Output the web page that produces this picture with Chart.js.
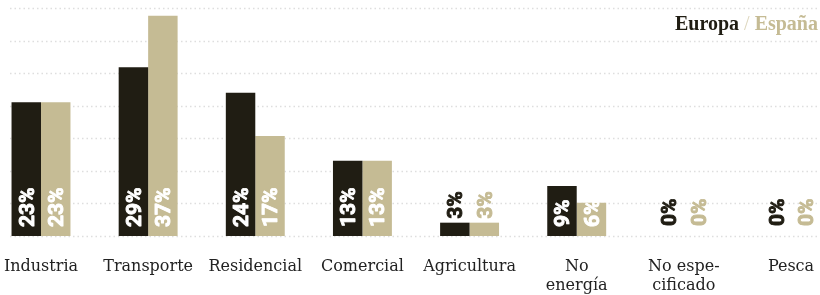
<!DOCTYPE html>
<html>
<head>
<meta charset="utf-8">
<script src="https://cdn.jsdelivr.net/npm/chart.js@4"></script>
<style>
  body { margin: 0; background: #fff; }
  #wrap { position: relative; width: 820px; height: 295px; }
  #legend {
    position: absolute; right: 2px; top: 12px;
    font: bold 20px "Liberation Serif", serif;
  }
  #legend .eu { color: #201d13; }
  #legend .sep { color: #ddd6bd; font-weight: normal; }
  #legend .es { color: #c5bb94; }
</style>
</head>
<body>
<div id="wrap">
  <canvas id="chart"></canvas>
  <div id="legend"><span class="eu">Europa</span><span class="sep"> / </span><span class="es">España</span></div>
</div>
<script>
const categories = ["Industria", "Transporte", "Residencial", "Comercial", "Agricultura", ["No", "energía"], ["No espe-", "cificado"], "Pesca"];
const europa = [22.6, 28.5, 24.2, 12.7, 2.25, 8.45, 0, 0];
const espana = [22.6, 37.2, 16.9, 12.7, 2.25, 5.6, 0, 0];
const europaLabels = ["23%", "29%", "24%", "13%", "3%", "9%", "0%", "0%"];
const espanaLabels = ["23%", "37%", "17%", "13%", "3%", "6%", "0%", "0%"];

const dark = "#201d13";
const tan = "#c5bb94";

// dotted horizontal lines across the full width
const gridPlugin = {
    id: "dotGrid",
    beforeDatasetsDraw(chart) {
        const ctx = chart.ctx;
        const y = chart.scales.y;
        ctx.save();
        ctx.strokeStyle = "#dedede";
        ctx.lineWidth = 1.5;
        ctx.setLineDash([1.5, 3]);
        y.ticks.forEach(t => {
            const py = Math.round(y.getPixelForValue(t.value)) + 0.5;
            ctx.beginPath();
            ctx.moveTo(10, py);
            ctx.lineTo(820, py);
            ctx.stroke();
        });
        ctx.restore();
    }
};

// rotated percentage labels (stroked a bit to look heavier)
const valuePlugin = {
    id: "values",
    afterDatasetsDraw(chart) {
        const ctx = chart.ctx;
        const base = chart.scales.y.getPixelForValue(0);
        ctx.save();
        ctx.font = "bold 21px Roboto, sans-serif";
        ctx.textBaseline = "middle";
        ctx.textAlign = "left";
        ctx.lineWidth = 0.9;
        ctx.lineJoin = "round";
        chart.data.datasets.forEach((ds, i) => {
            const meta = chart.getDatasetMeta(i);
            meta.data.forEach((bar, j) => {
                const inside = ds.data[j] >= 5;
                let start;
                if (inside) {
                    ctx.fillStyle = ctx.strokeStyle = "#fff";
                    start = base - 9;
                } else {
                    ctx.fillStyle = ctx.strokeStyle = ds.backgroundColor;
                    start = Math.min(bar.y - 4, base - 10);
                }
                ctx.save();
                ctx.translate(bar.x + 1, start);
                ctx.rotate(-Math.PI / 2);
                ctx.fillText(ds.valueLabels[j], 0, 1);
                ctx.strokeText(ds.valueLabels[j], 0, 1);
                ctx.restore();
            });
        });
        ctx.restore();
    }
};

new Chart(document.getElementById("chart"), {
    type: "bar",
    data: {
        labels: categories,
        datasets: [
            { label: "Europa", data: europa, valueLabels: europaLabels, backgroundColor: dark },
            { label: "España", data: espana, valueLabels: espanaLabels, backgroundColor: tan }
        ]
    },
    options: {
        responsive: true,
        maintainAspectRatio: false,
        animation: false,
        layout: { padding: { left: 41, right: 29, top: 8, bottom: 0 } },
        datasets: { bar: { categoryPercentage: 0.55, barPercentage: 1, clip: false } },
        scales: {
            x: {
                offset: false,
                grid: { display: false },
                border: { display: false },
                ticks: {
                    color: "#222",
                    font: { family: "DejaVu Serif", size: 16 },
                    padding: 13,
                    maxRotation: 0,
                    minRotation: 0,
                    autoSkip: false
                },
                afterFit: s => {
                    s.height = 59;
                    s.paddingLeft = 0;
                    s.paddingRight = 0;
                }
            },
            y: {
                min: 0,
                max: 38.5,
                ticks: { display: false, stepSize: 5.5 },
                grid: { display: false },
                border: { display: false },
                afterFit: s => { s.width = 0; }
            }
        },
        plugins: {
            legend: { display: false },
            tooltip: { enabled: false }
        }
    },
    plugins: [gridPlugin, valuePlugin]
});
</script>
</body>
</html>
